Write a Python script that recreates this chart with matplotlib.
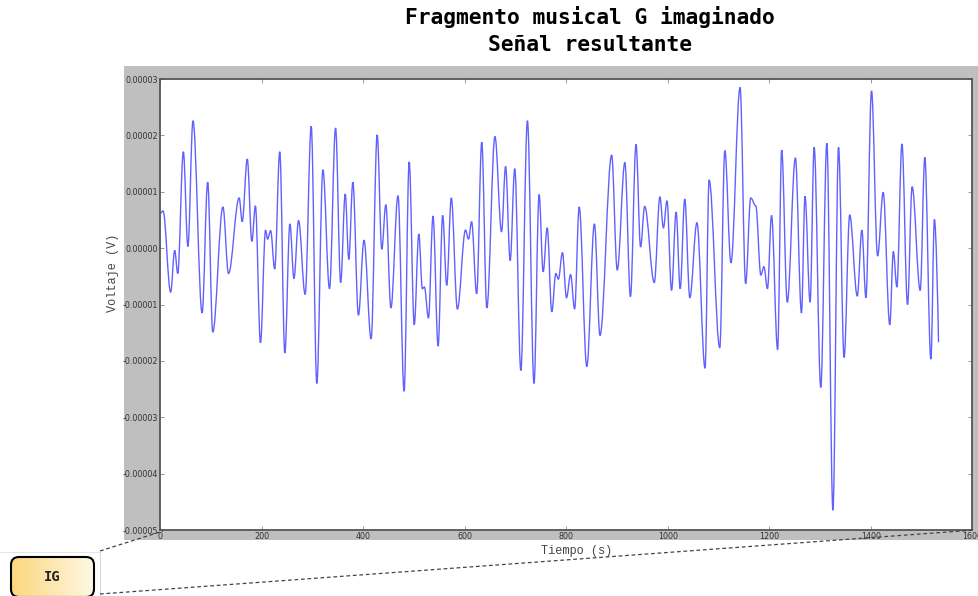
import numpy as np
import matplotlib
matplotlib.use('Agg')
import matplotlib.pyplot as plt
from matplotlib.path import Path
from matplotlib.patches import PathPatch, Rectangle, FancyBboxPatch
from matplotlib.lines import Line2D
from matplotlib.colors import LinearSegmentedColormap

# turning points of the signal: time (s) and voltage (in units of 1e-5 V)
tiempo = [0, 5, 20, 28, 34, 45, 54, 64, 82, 93, 103, 123, 134, 155, 161, 171, 180, 187, 197,
          207, 211, 217, 225, 235, 245, 255, 263, 272, 285, 297, 308, 320, 333, 345, 355, 364,
          371, 379, 390, 401, 415, 427, 436, 444, 454, 468, 480, 490, 500, 509, 516, 520, 528,
          537, 547, 556, 564, 573, 585, 601, 607, 613, 623, 633, 643, 659, 672, 680, 689, 698,
          710, 723, 736, 746, 754, 762, 771, 779, 784, 792, 800, 808, 816, 825, 840, 855, 866,
          889, 900, 915, 926, 937, 946, 954, 973, 984, 991, 998, 1007, 1016, 1024, 1033, 1043,
          1057, 1073, 1081, 1102, 1112, 1124, 1142, 1153, 1163, 1173, 1183, 1189, 1196, 1204,
          1216, 1224, 1235, 1251, 1263, 1270, 1280, 1288, 1301, 1313, 1325, 1336, 1347, 1358,
          1373, 1382, 1390, 1401, 1413, 1424, 1437, 1444, 1451, 1461, 1472, 1481, 1497, 1506,
          1518, 1525, 1533]
voltaje = [0.62, 0.66, -0.78, -0.04, -0.45, 1.71, 0.03, 2.26, -1.15, 1.17, -1.49, 0.73, -0.45,
           0.89, 0.47, 1.58, 0.12, 0.75, -1.68, 0.32, 0.16, 0.31, -0.37, 1.71, -1.86, 0.43,
           -0.54, 0.49, -0.82, 2.16, -2.40, 1.39, -0.72, 2.13, -0.61, 0.96, -0.20, 1.17, -1.19,
           0.14, -1.61, 2.01, -0.02, 0.77, -1.06, 0.93, -2.54, 1.53, -1.36, 0.25, -0.72, -0.69,
           -1.24, 0.57, -1.74, 0.58, -0.66, 0.89, -1.08, 0.32, 0.16, 0.47, -0.81, 1.88, -1.06,
           1.98, 0.29, 1.45, -0.22, 1.41, -2.17, 2.26, -2.40, 0.95, -0.42, 0.36, -1.13, -0.45,
           -0.55, -0.08, -0.88, -0.47, -1.08, 0.73, -2.10, 0.43, -1.55, 1.65, -0.39, 1.52,
           -0.86, 1.84, 0.02, 0.74, -0.61, 0.91, 0.36, 0.84, -0.75, 0.64, -0.72, 0.87, -0.88,
           0.45, -2.13, 1.21, -1.77, 1.73, -0.26, 2.85, -0.63, 0.89, 0.75, -0.48, -0.33, -0.72,
           0.58, -1.80, 1.74, -0.96, 1.60, -1.15, 0.92, -0.96, 1.79, -2.47, 1.86, -4.65, 1.79,
           -1.94, 0.59, -0.85, 0.32, -0.88, 2.79, -0.14, 0.99, -1.36, -0.06, -0.69, 1.85, -1.00,
           1.09, -0.75, 1.61, -1.97, 0.51, -1.67]

xticks = [0, 200, 400, 600, 800, 1000, 1200, 1400, 1600]
yticks = [-5e-5, -4e-5, -3e-5, -2e-5, -1e-5, 0, 1e-5, 2e-5, 3e-5]
ytick_labels = ['-0.00005', '-0.00004', '-0.00003', '-0.00002', '-0.00001',
                '0.00000', '0.00001', '0.00002', '0.00003']

W, H = 979, 596
fig = plt.figure(figsize=(W / 100, H / 100), dpi=100)


def fx(x):
    return x / W


def fy(y):
    return 1 - y / H


# gray backdrop behind the plot
fig.patches.append(Rectangle((fx(124), fy(540)), 1.0, fy(66) - fy(540),
                             transform=fig.transFigure, facecolor='#bfbfbf',
                             edgecolor='none', zorder=-5))

fig.text(fx(590), fy(17), 'Fragmento musical G imaginado', ha='center', va='center',
         fontsize=15.3, fontweight='bold', family='DejaVu Sans Mono')
fig.text(fx(590), fy(45), 'Señal resultante', ha='center', va='center',
         fontsize=15.3, fontweight='bold', family='DejaVu Sans Mono')

ax = fig.add_axes([fx(160.5), fy(530), (972.5 - 160.5) / W, (530 - 79) / H])
ax.set_facecolor('white')

# smooth curve through the turning points (cubic Bezier, flat at each extremum)
t = np.array(tiempo, dtype=float)
v = np.array(voltaje) * 1e-5
verts = [(t[0], v[0])]
codes = [Path.MOVETO]
for i in range(len(t) - 1):
    d = (t[i + 1] - t[i]) * 0.36
    c2 = (t[i + 1] - d, v[i + 1])
    if i == len(t) - 2:
        c2 = (t[i + 1] - d * 0.4, v[i + 1] + (v[i] - v[i + 1]) * 0.3)
    verts += [(t[i] + d, v[i]), c2, (t[i + 1], v[i + 1])]
    codes += [Path.CURVE4] * 3
ax.add_patch(PathPatch(Path(verts, codes), facecolor='none', edgecolor='blue',
                       alpha=0.62, lw=1.0))

ax.set_xlim(0, 1600)
ax.set_ylim(-5e-5, 3e-5)
ax.set_xticks(xticks)
ax.set_xticklabels([str(x) for x in xticks])
ax.set_yticks(yticks)
ax.set_yticklabels(ytick_labels)
ax.tick_params(direction='in', length=3, width=0.6, color='#888888', labelsize=5.8,
               labelcolor='#333333', top=True, right=True, pad=1.5)
for s in ax.spines.values():
    s.set_color('#555555')
    s.set_linewidth(1.3)

ax.set_xlabel('Tiempo (s)', family='Liberation Mono', fontsize=8.6, color='#444444')
ax.set_ylabel('Voltaje (V)', family='Liberation Mono', fontsize=8.6, color='#444444')
ax.xaxis.set_label_coords(0.512, -0.033)
ax.yaxis.set_label_coords(-0.051, 0.571)

# zoom guide lines from the IG box to the plot
dash = (0, (3, 2.2))
fig.add_artist(Line2D([fx(100), fx(163)], [fy(551), fy(531)], transform=fig.transFigure,
                      color='#444444', lw=0.9, ls=dash))
fig.add_artist(Line2D([fx(100), fx(975)], [fy(594), fy(530)], transform=fig.transFigure,
                      color='#444444', lw=0.9, ls=dash))

# IG box with a horizontal gradient fill
axb = fig.add_axes([0, 0, 110 / W, 50 / H])
axb.set_axis_off()
axb.plot([0, 100], [552, 552], color='#e2e2e2', lw=0.6)
axb.plot([100, 100], [552, 596], color='#d0d0d0', lw=0.6)
box = FancyBboxPatch((11, 557), 83, 40, boxstyle='round,pad=0,rounding_size=8',
                     facecolor='none', edgecolor='black', lw=1.5, zorder=3)
axb.add_patch(box)
grad = np.linspace(0, 1, 256).reshape(1, -1)
cmap_ig = LinearSegmentedColormap.from_list('ig', ['#fcd77c', '#fff7e6'])
img = axb.imshow(grad, extent=(11, 94, 597, 557), aspect='auto', cmap=cmap_ig, zorder=2)
img.set_clip_path(box)
axb.text(52.5, 577, 'IG', ha='center', va='center', fontsize=10, fontweight='bold',
         family='DejaVu Sans Mono', color='#222222', zorder=4)
axb.set_xlim(0, 110)
axb.set_ylim(596, 546)

fig.savefig('out.png', dpi=100, facecolor='white')
